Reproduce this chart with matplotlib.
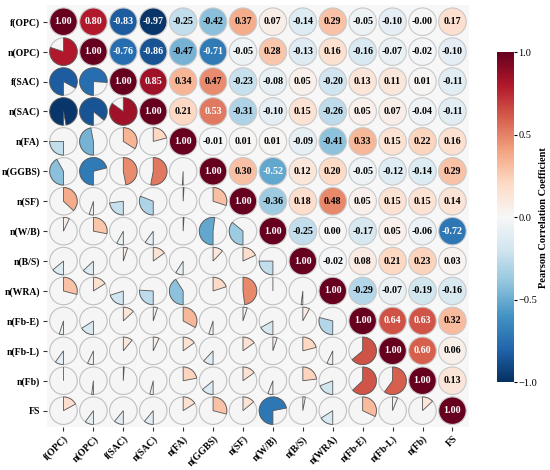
"""Correlation matrix: pies below the diagonal, coloured circles above"""

import matplotlib
matplotlib.use("Agg")
import matplotlib.pyplot as plt
from matplotlib.patches import Circle, Wedge
import numpy as np

labels = ["f(OPC)", "n(OPC)", "f(SAC)", "n(SAC)", "n(FA)", "n(GGBS)", "n(SF)",
          "n(W/B)", "n(B/S)", "n(WRA)", "n(Fb-E)", "n(Fb-L)", "n(Fb)", "FS"]

# upper triangle, row by row, starting at the diagonal
upper_rows = [
    [1.00, 0.80, -0.83, -0.97, -0.25, -0.42, 0.37, 0.07, -0.14, 0.29, -0.05, -0.10, -0.00, 0.17],
    [1.00, -0.76, -0.86, -0.47, -0.71, -0.05, 0.28, -0.13, 0.16, -0.16, -0.07, -0.02, -0.10],
    [1.00, 0.85, 0.34, 0.47, -0.23, -0.08, 0.05, -0.20, 0.13, 0.11, 0.01, -0.11],
    [1.00, 0.21, 0.53, -0.31, -0.10, 0.15, -0.26, 0.05, 0.07, -0.04, -0.11],
    [1.00, -0.01, 0.01, 0.01, -0.09, -0.41, 0.33, 0.15, 0.22, 0.16],
    [1.00, 0.30, -0.52, 0.12, 0.20, -0.05, -0.12, -0.14, 0.29],
    [1.00, -0.36, 0.18, 0.48, 0.05, 0.15, 0.15, 0.14],
    [1.00, -0.25, 0.00, -0.17, 0.05, -0.06, -0.72],
    [1.00, -0.02, 0.08, 0.21, 0.23, 0.03],
    [1.00, -0.29, -0.07, -0.19, -0.16],
    [1.00, 0.64, 0.63, 0.32],
    [1.00, 0.60, 0.06],
    [1.00, 0.13],
    [1.00],
]

n = len(labels)
corr = np.zeros((n, n))
for i, row in enumerate(upper_rows):
    for k, v in enumerate(row):
        corr[i, i + k] = v
        corr[i + k, i] = v

plt.rcParams["font.family"] = ["Liberation Serif", "DejaVu Serif"]
cmap = plt.get_cmap("RdBu_r")
norm = plt.Normalize(-1, 1)

fig = plt.figure(figsize=(5.5, 4.7), dpi=100)
ax = fig.add_axes([0.0855, 0.089, 0.767, 0.902])
ax.set_facecolor("#f7f7f7")
r = 0.46

for i in range(n):
    for j in range(n):
        v = corr[i, j]
        col = cmap(norm(v))
        if j >= i:
            ax.add_patch(Circle((j, i), r, facecolor=col, edgecolor="#c8c8c8", lw=0.8))
            tc = "white" if abs(v) > 0.5 else "black"
            ax.text(j, i, f"{v:.2f}", ha="center", va="center", fontsize=7.2,
                    fontweight="bold", color=tc)
        else:
            ax.add_patch(Circle((j, i), r, facecolor="#f5f5f5", edgecolor="#c0c0c0", lw=0.8))
            a = abs(v) * 360
            # y axis is inverted, so angles run the other way on screen
            if v >= 0:
                w = Wedge((j, i), r, 270, 270 + a, facecolor=col, edgecolor="#555555", lw=0.6)
            else:
                w = Wedge((j, i), r, 90, 90 + a, facecolor=col, edgecolor="#555555", lw=0.6)
            ax.add_patch(w)

ax.set_xlim(-0.55, n - 0.45)
ax.set_ylim(n - 0.45, -0.55)
ax.set_aspect("equal")
for s in ax.spines.values():
    s.set_visible(False)
ax.set_xticks(range(n))
ax.set_yticks(range(n))
ax.set_xticklabels(labels, rotation=45, ha="right", rotation_mode="anchor",
                   fontsize=7, fontweight="bold")
ax.set_yticklabels(labels, fontsize=7, fontweight="bold")
ax.tick_params(length=3, width=0.8, color="#333333", pad=2)

cax = fig.add_axes([0.904, 0.187, 0.03, 0.702])
sm = matplotlib.cm.ScalarMappable(norm=norm, cmap=cmap)
cb = fig.colorbar(sm, cax=cax, ticks=[-1.0, -0.5, 0.0, 0.5, 1.0])
cb.outline.set_visible(False)
cb.ax.tick_params(labelsize=7.5, length=2, pad=1.5)
cb.set_label("Pearson Correlation Coefficient", fontsize=7.5, fontweight="bold", labelpad=1)

fig.savefig("out.png", dpi=100)
